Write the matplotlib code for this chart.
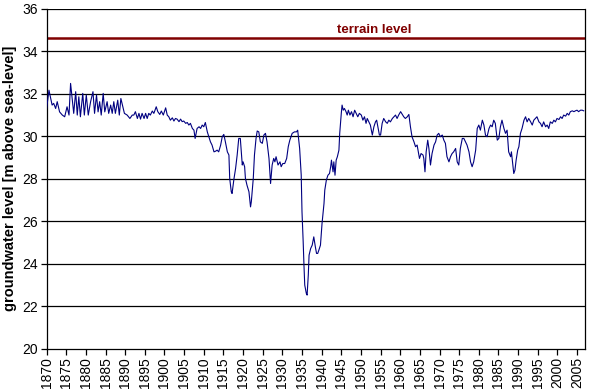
import matplotlib
matplotlib.use("Agg")
import matplotlib.pyplot as plt

plt.rcParams['font.family'] = ['Liberation Sans', 'DejaVu Sans']

years = [
    1870.0, 1870.6, 1871.4, 1871.8, 1872.3, 1872.7, 1873.3, 1874.0, 1874.6, 1875.2,
    1875.7, 1876.1, 1876.5, 1876.9, 1877.4, 1877.8, 1878.2, 1878.6, 1879.2, 1879.6,
    1880.1, 1880.6, 1881.2, 1881.8, 1882.2, 1882.7, 1883.1, 1883.5, 1883.9, 1884.4,
    1884.8, 1885.4, 1885.8, 1886.3, 1886.7, 1887.1, 1887.5, 1888.1, 1888.5, 1888.9,
    1889.5, 1889.8, 1890.5, 1891.2, 1891.8,
    1892.2, 1892.6, 1893.1, 1893.5, 1893.9, 1894.3, 1894.8, 1895.2, 1895.6, 1896.0,
    1896.4, 1896.9, 1897.3, 1897.9, 1898.3, 1898.8, 1899.2, 1899.7, 1900.3, 1900.7,
    1901.1, 1901.5, 1902.0, 1902.4, 1902.8, 1903.2, 1903.7, 1904.1, 1904.5, 1904.9,
    1905.4, 1905.8, 1906.2, 1906.6, 1907.1, 1907.5, 1907.8, 1908.3, 1908.8, 1909.2,
    1909.6, 1910.0, 1910.4, 1910.9, 1911.3, 1911.7, 1912.1, 1912.6, 1913.0, 1913.4,
    1913.8, 1914.3, 1914.7, 1915.1,
    1915.5, 1916.0, 1916.4, 1916.6, 1917.0, 1917.2, 1917.7, 1918.1, 1918.5, 1918.9,
    1919.3, 1919.8, 1920.0, 1920.4, 1920.6, 1921.0, 1921.5, 1921.9, 1922.1, 1922.6,
    1922.9, 1923.3, 1923.6, 1924.0, 1924.4, 1924.9, 1925.3, 1925.7, 1926.1, 1926.6,
    1927.0, 1927.4, 1927.8, 1928.1, 1928.4, 1928.9, 1929.4, 1929.7, 1930.1, 1930.6,
    1931.1, 1931.5, 1931.9, 1932.5, 1933.1, 1933.6, 1933.9, 1934.4, 1934.8, 1935.0,
    1935.3, 1935.5, 1935.7, 1936.1, 1936.3, 1936.6, 1936.8, 1937.2, 1937.6, 1938.0,
    1938.4, 1938.7, 1939.0, 1939.3, 1939.7, 1940.1, 1940.6, 1940.8, 1941.2, 1941.6,
    1942.0, 1942.3, 1942.5, 1942.9, 1943.1, 1943.4, 1943.7, 1944.0, 1944.4, 1944.6,
    1945.0, 1945.2, 1945.5, 1945.8, 1946.2, 1946.5, 1946.8, 1947.2, 1947.6, 1948.0,
    1948.4, 1948.8, 1949.2, 1949.6, 1950.1, 1950.5, 1950.9, 1951.3, 1951.6, 1952.0,
    1952.4, 1952.9, 1953.3, 1953.7, 1954.0, 1954.3, 1954.7, 1955.0, 1955.4, 1955.8,
    1956.3, 1956.7, 1957.1, 1957.5, 1958.0, 1958.4, 1958.8, 1959.2, 1959.6, 1960.1,
    1960.9, 1961.3, 1961.8, 1962.2, 1962.6, 1963.0, 1963.5, 1963.9, 1964.3, 1964.6,
    1964.9, 1965.3, 1965.8, 1966.0, 1966.3, 1966.6, 1967.0, 1967.3, 1967.7, 1968.1,
    1968.6, 1969.0, 1969.4, 1969.8, 1970.2, 1970.7, 1971.1, 1971.5, 1971.9, 1972.4,
    1972.8, 1973.2, 1973.6, 1974.1, 1974.5, 1974.9, 1975.3, 1975.8, 1976.2, 1976.6,
    1977.0, 1977.5, 1977.9, 1978.3, 1978.7, 1979.2, 1979.6, 1980.0, 1980.4, 1980.9,
    1981.3, 1981.7, 1982.1, 1982.6, 1983.0, 1983.4,
    1983.8, 1984.2, 1984.7, 1985.1, 1985.5, 1985.9, 1986.4, 1986.8, 1987.2, 1987.6,
    1988.1, 1988.3, 1988.7, 1988.9, 1989.2, 1989.5, 1989.9, 1990.2, 1990.6, 1991.0,
    1991.5, 1991.9, 1992.3, 1992.7, 1993.2, 1993.6, 1994.0, 1994.4, 1994.8, 1995.3,
    1995.7, 1996.1, 1996.5, 1997.0, 1997.4, 1997.8, 1998.2, 1998.7, 1999.1, 1999.5,
    1999.9, 2000.4, 2000.8, 2001.2, 2001.6, 2002.1, 2002.5, 2002.9, 2003.3, 2003.8,
    2004.2, 2004.6, 2005.0, 2005.4, 2005.9, 2006.3, 2006.7,
]

levels = [
    31.30, 32.16, 31.46, 31.54, 31.30, 31.62, 31.14, 30.99, 30.91, 31.38,
    30.99, 32.48, 31.77, 31.07, 32.09, 30.99, 31.85, 30.91, 32.01, 30.99,
    31.93, 30.99, 31.62, 32.09, 31.07, 31.93, 31.14, 31.62, 30.99, 32.01,
    31.14, 31.62, 31.07, 31.46, 31.07, 31.62, 31.07, 31.69, 30.99, 31.77,
    31.30, 31.07, 30.99, 30.83, 30.99,
    30.99, 31.15, 30.83, 31.07, 30.80, 31.07, 30.83, 31.07, 30.83, 31.07,
    30.99, 31.18, 31.07, 31.38, 31.15, 31.02, 31.18, 30.99, 31.33, 30.99,
    30.91, 30.75, 30.86, 30.71, 30.83, 30.80, 30.68, 30.80, 30.68, 30.71,
    30.60, 30.64, 30.52, 30.60, 30.36, 30.28, 29.89, 30.36, 30.44, 30.36,
    30.52, 30.44, 30.64, 30.20, 29.97, 29.73, 29.58, 29.26, 29.29, 29.34,
    29.26, 29.58, 29.97, 30.08,
    29.73, 29.26, 29.11, 28.01, 27.38, 27.30, 28.01, 28.48, 29.11, 29.89,
    29.89, 28.64, 28.79, 28.56, 28.01, 27.69, 27.38, 26.67, 26.91, 28.01,
    29.11, 29.89, 30.24, 30.20, 29.73, 29.66, 30.05, 30.13, 29.73, 28.95,
    27.77, 28.64, 28.95, 28.79, 29.03, 28.64, 28.79, 28.56, 28.71, 28.71,
    28.95, 29.50, 29.81, 30.13, 30.20, 30.20, 30.28, 29.42, 28.17, 26.44,
    25.03, 23.93, 22.99, 22.60, 22.52, 23.46, 24.40, 24.71, 24.87, 25.26,
    24.79, 24.48, 24.48, 24.64, 24.87, 25.89, 26.83, 27.46, 27.93, 28.16,
    28.24, 28.56, 28.87, 28.32, 28.79, 28.16, 28.87, 29.03, 29.34, 30.13,
    31.07, 31.46, 31.22, 31.30, 31.15, 30.99, 31.22, 30.99, 31.15, 30.91,
    31.22, 31.07, 30.91, 31.07, 30.99, 30.75, 30.91, 30.60, 30.83, 30.67,
    30.52, 30.05, 30.44, 30.67, 30.75, 30.44, 30.05, 30.05, 30.60, 30.83,
    30.67, 30.60, 30.75, 30.67, 30.83, 30.91, 30.99, 30.83, 30.99, 31.15,
    30.91, 30.83, 30.91, 31.02, 30.44, 29.97, 29.73, 29.50, 29.58, 29.26,
    28.95, 29.18, 29.11, 28.95, 28.32, 29.26, 29.81, 29.42, 28.64, 29.18,
    29.58, 29.73, 30.05, 30.13, 29.97, 30.05, 29.81, 29.66, 29.03, 28.79,
    29.03, 29.18, 29.26, 29.42, 28.79, 28.64, 29.42, 29.89, 29.89, 29.73,
    29.58, 29.26, 28.79, 28.56, 28.79, 29.34, 30.36, 30.52, 30.28, 30.75,
    30.52, 30.05, 29.97, 30.36, 30.52, 30.44,
    30.75, 30.60, 29.81, 29.89, 30.44, 30.75, 30.36, 30.13, 30.28, 29.26,
    29.03, 29.26, 28.56, 28.24, 28.40, 28.87, 29.34, 29.50, 30.13, 30.36,
    30.75, 30.91, 30.67, 30.83, 30.67, 30.52, 30.75, 30.83, 30.91, 30.67,
    30.60, 30.44, 30.67, 30.44, 30.52, 30.36, 30.67, 30.60, 30.75, 30.67,
    30.83, 30.78, 30.91, 30.83, 30.99, 30.94, 31.07, 30.99, 31.15, 31.19,
    31.15, 31.19, 31.22, 31.15, 31.22, 31.22, 31.19,
]

terrain_level = 34.6
terrain_label = "terrain level"
y_label = "groundwater level [m above sea-level]"
x_ticks = list(range(1870, 2006, 5))
y_ticks = list(range(20, 37, 2))

fig = plt.figure(figsize=(5.9, 3.9), dpi=100)
ax = fig.add_axes([0.079, 0.106, 0.913, 0.872])

for yv in y_ticks[1:]:
    ax.axhline(yv, color='black', linewidth=0.9, zorder=1)

ax.axhline(terrain_level, color='#800000', linewidth=1.8, zorder=2)
ax.text(1953.3, terrain_level + 0.1, terrain_label, color='#800000',
        fontsize=9.5, fontweight='bold', ha='center', va='bottom')

ax.plot(years, levels, color='#000080', linewidth=0.8, zorder=3)

ax.set_xlim(1870, 2007.1)
ax.set_ylim(20, 36)
ax.set_xticks(x_ticks)
ax.set_xticklabels([str(x) for x in x_ticks], rotation=90, fontsize=10)
ax.set_yticks(y_ticks)
ax.set_yticklabels([str(y) for y in y_ticks], fontsize=10)
ax.tick_params(direction='out', length=4, width=0.9, pad=2, colors='black')
ax.set_ylabel(y_label, fontsize=10.5, fontweight='bold', labelpad=4)

ax.spines['top'].set_visible(False)
for s in ['left', 'bottom', 'right']:
    ax.spines[s].set_linewidth(0.9)
    ax.spines[s].set_color('black')

fig.savefig('out.png', dpi=100)
